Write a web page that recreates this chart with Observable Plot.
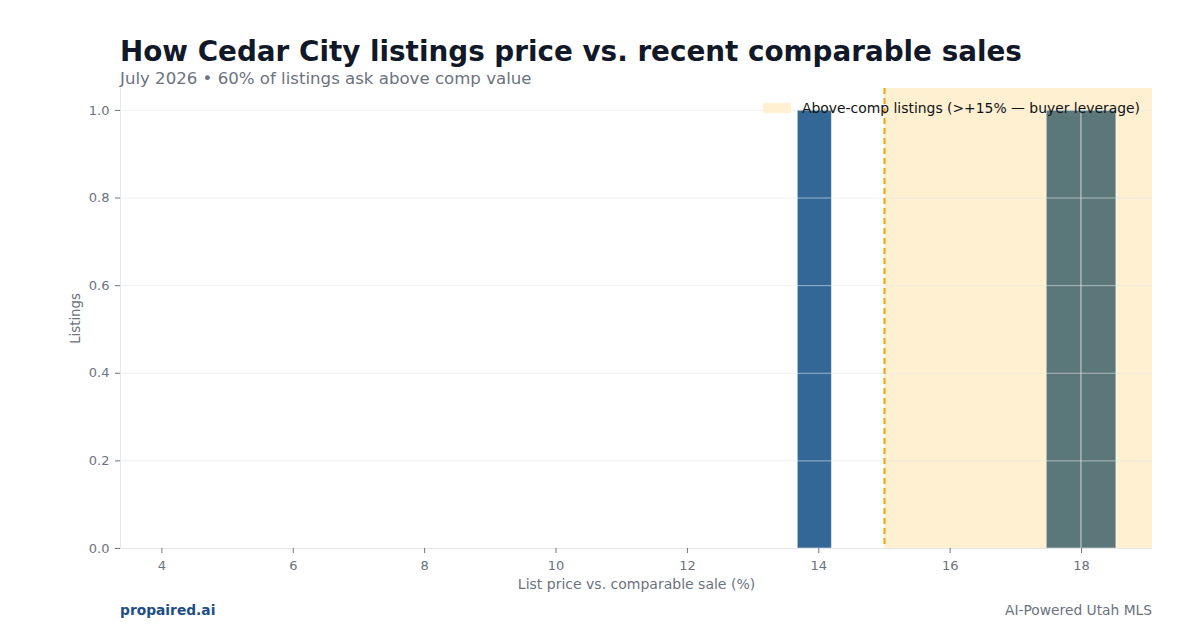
<!DOCTYPE html>
<html>
<head>
<meta charset="utf-8">
<script src="https://cdn.jsdelivr.net/npm/d3@7"></script>
<script src="https://cdn.jsdelivr.net/npm/@observablehq/plot@0.6"></script>
<style>
  html, body { margin: 0; padding: 0; background: #fff; }
  body { width: 1200px; height: 630px; position: relative; overflow: hidden; font-family: "DejaVu Sans", sans-serif; }
  #title { position: absolute; left: 120px; top: 35px; font-size: 27.8px; font-weight: bold; color: #111827; white-space: nowrap; }
  #subtitle { position: absolute; left: 120px; top: 68.5px; font-size: 16.6px; color: #6b7280; white-space: nowrap; }
  #chart { position: absolute; left: 0; top: 80px; }
  #legend { position: absolute; left: 763px; top: 100px; font-size: 13.9px; color: #111; display: flex; align-items: center; white-space: nowrap; }
  #legend .sw { width: 28px; height: 10px; background: #fef0d0; margin-right: 11px; }
  #foot-l { position: absolute; left: 120px; top: 601.5px; font-size: 13.8px; font-weight: bold; color: #1e4e85; }
  #foot-r { position: absolute; right: 48px; top: 601.5px; font-size: 13.8px; color: #6b7280; }
</style>
</head>
<body>
<div id="title">How Cedar City listings price vs. recent comparable sales</div>
<div id="subtitle">July 2026 • 60% of listings ask above comp value</div>
<div id="chart"></div>
<div id="legend"><div class="sw"></div><span>Above-comp listings (&gt;+15% — buyer leverage)</span></div>
<div id="foot-l">propaired.ai</div>
<div id="foot-r">AI-Powered Utah MLS</div>
<script>
// Histogram bins (list price vs comp sale, %)
const binStart = [13.68, 17.47, 18.0];
const binEnd   = [14.2, 18.0, 18.53];
const counts   = [1, 1, 1];
const group    = ["near", "above", "above"];
const xTicks = [4, 6, 8, 10, 12, 14, 16, 18];
const yTicks = [0, 0.2, 0.4, 0.6, 0.8, 1.0];
const threshold = 15;
const xDomain = [3.37, 19.08];
const yDomain = [0, 1.05];

const bins = binStart.map((s, i) => ({x1: s, x2: binEnd[i], y: counts[i], g: group[i]}));

const chart = Plot.plot({
  width: 1200,
  height: 518,
  marginTop: 8,
  marginLeft: 120,
  marginRight: 48,
  marginBottom: 50,
  style: { fontFamily: "DejaVu Sans, sans-serif", fontSize: "13px", color: "#6b7280", background: "transparent" },
  x: { domain: xDomain, label: null },
  y: { domain: yDomain, label: null },
  color: { domain: ["near", "above"], range: ["#336795", "#5b777a"] },
  marks: [
    Plot.rect([{x1: threshold, x2: xDomain[1], y1: yDomain[0], y2: yDomain[1]}], {x1: "x1", x2: "x2", y1: "y1", y2: "y2", fill: "#fef0d0"}),
    Plot.rectY(bins, {x1: "x1", x2: "x2", y: "y", fill: "g", stroke: "#ffffff", strokeOpacity: 0.5, strokeWidth: 1, inset: 0}),
    Plot.gridY(yTicks, {stroke: "#e5e7eb", strokeOpacity: 0.6}),
    Plot.ruleX([threshold], {stroke: "#f59e0b", strokeWidth: 2, strokeDasharray: "6,4"}),
    Plot.ruleX([xDomain[0]], {stroke: "#e5e7eb"}),
    Plot.ruleY([0], {stroke: "#e5e7eb"}),
    Plot.axisX(xTicks, {tickFormat: d => String(d), label: null, stroke: "#6b7280", fill: "#6b7280", tickSize: 5, tickPadding: 7, fontSize: 13}),
    Plot.axisY(yTicks, {tickFormat: d3.format(".1f"), label: null, stroke: "#6b7280", fill: "#6b7280", tickSize: 5, tickPadding: 6, fontSize: 13}),
    Plot.text(["List price vs. comparable sale (%)"], {frameAnchor: "bottom", dy: 40, fill: "#6b7280", fontSize: 14}),
    Plot.text(["Listings"], {frameAnchor: "left", dx: -45, rotate: -90, textAnchor: "middle", fill: "#6b7280", fontSize: 13.3})
  ]
});
document.getElementById("chart").appendChild(chart);
</script>
</body>
</html>
